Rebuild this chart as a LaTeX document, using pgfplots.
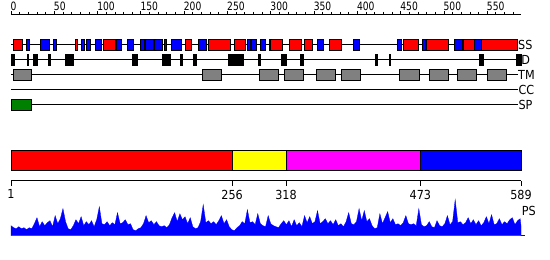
\documentclass[border=0pt]{standalone}
\usepackage{pgfplots}
\pgfplotsset{compat=1.18}
\usepackage{fontspec}
\setmainfont{DejaVu Sans}[FakeStretch=0.9]
\newfontfamily\rulerfont{DejaVu Sans}[FakeStretch=0.8]
\definecolor{spgreen}{RGB}{0,128,0}
\definecolor{pmag}{RGB}{255,0,255}
\definecolor{pred}{RGB}{255,0,0}
\definecolor{pblue}{RGB}{0,0,255}
\definecolor{pyellow}{RGB}{255,255,0}
\definecolor{pgray}{RGB}{128,128,128}
\newcommand\trackboxes[4]{%
  \foreach \a/\b in {#4}{%
    \edef\tmp{\noexpand\addplot[fill=#1, draw=black, line width=0.8bp] coordinates {(\a,#2) (\b,#2) (\b,#3) (\a,#3)} -- cycle;}%
    \tmp
  }%
}
\pgfplotstableread{
x y
0 10
3 8
6 7
9 9
12 7
15 8
18 6
21 8
24 7
27 12
30 18
33 9
36 14
39 10
42 13
45 15
48 9
51 20
54 12
57 17
60 27
63 14
66 7
69 6
72 10
75 16
78 12
81 19
84 10
87 14
90 11
93 15
96 9
99 16
102 29
105 12
108 11
111 14
114 10
117 13
120 11
123 23
126 12
129 13
132 16
135 11
138 12
141 6
144 5
147 7
150 8
153 12
156 20
159 13
162 15
165 11
168 14
171 10
174 9
177 10
180 8
183 11
186 18
189 23
192 14
195 22
198 16
201 19
204 12
207 18
210 9
213 7
216 8
219 14
222 31
225 13
228 15
231 12
234 14
237 11
240 15
243 20
246 12
249 16
252 9
255 6
258 5
261 8
264 10
267 14
270 12
273 26
276 13
279 14
282 11
285 22
288 12
291 10
294 9
297 20
300 12
303 10
306 9
309 8
312 12
315 15
318 11
321 15
324 9
327 16
330 10
333 13
336 9
339 20
342 13
345 19
348 12
351 14
354 25
357 12
360 14
363 17
366 12
369 15
372 11
375 16
378 10
381 12
384 9
387 14
390 23
393 12
396 11
399 14
402 27
405 15
408 25
411 14
414 17
417 10
420 7
423 8
426 22
429 12
432 18
435 24
438 13
441 17
444 11
447 12
450 10
453 13
456 20
459 12
462 11
465 12
468 10
471 27
474 11
477 9
480 10
483 14
486 9
489 8
492 15
495 10
498 9
501 12
504 20
507 11
510 14
513 36
516 13
519 14
522 11
525 13
528 18
531 12
534 16
537 11
540 15
543 10
546 13
549 19
552 12
555 21
558 11
561 12
564 17
567 11
570 14
573 12
576 16
579 18
582 11
585 15
588 17
589 10
}\psdata
\begin{document}
\begin{tikzpicture}
\useasboundingbox (0,0) rectangle (550bp,260bp);
% ruler
\begin{axis}[at={(11bp,245bp)}, anchor=north west, scale only axis,
  width=510bp, height=10bp, xmin=0, xmax=589, ymin=0, ymax=1,
  axis x line=top, axis y line=none, axis line style={-, line width=1bp},
  xtick={0,50,...,550},
  xticklabels={0,50,100,150,200,250,300,350,400,450,500,550},
  minor xtick={10,20,...,580},
  tick align=outside, major tick length=3.5bp, minor tick length=3bp,
  tick style={black, line width=0.8bp},
  xticklabel style={anchor=south west, inner sep=0pt,
    font=\rulerfont\fontsize{11.5}{11.5}\selectfont, xshift=-0.5bp, yshift=1bp}]
\addplot[draw=none] coordinates {(0,0)};
\end{axis}
% tracks
\begin{axis}[at={(11bp,0bp)}, anchor=south west, scale only axis,
  width=510bp, height=260bp, xmin=0, xmax=589, ymin=0, ymax=260,
  hide axis, clip=false]
\addplot[black, line width=1bp] coordinates {(0,215) (585,215)};
\addplot[black, line width=1bp] coordinates {(0,200) (585,200)};
\addplot[black, line width=1bp] coordinates {(0,185) (585,185)};
\addplot[black, line width=1bp] coordinates {(0,170) (585,170)};
\addplot[black, line width=1bp] coordinates {(0,155) (585,155)};
\trackboxes{pred}{209.7}{220.3}{3/13,74/77,107/120,201/208,228/253,258/271,300/314,321/335,339/348,368/381,453/471,480/505,522/535,543/585}
\trackboxes{pblue}{209.7}{220.3}{18/21,34/44,49/53,81/85,87/92,97/104,122/128,134/141,149/154,155/164,166/175,177/180,185/197,216/226,273/277,278/283,288/294,298/300,354/361,395/402,446/451,475/479,512/521,535/543}
\trackboxes{black}{194.7}{205.3}{0/4,19/20,26/30,43/45,63/72,140/146,175/184,196/198,211/214,251/268,286/288,312/318,334/338,421/423,437/438,541/546,584/589}
\trackboxes{pgray}{179.7}{190.3}{3/23,221/243,287/309,316/338,353/375,381/404,449/472,483/505,515/538,550/572}
\trackboxes{spgreen}{149.7}{160.3}{0/24}
\node[anchor=west, inner sep=0pt, font=\fontsize{12.5}{12.5}\selectfont] at (axis cs:585.5,215) {SS};
\node[anchor=west, inner sep=0pt, font=\fontsize{12.5}{12.5}\selectfont] at (axis cs:589.2,200) {D};
\node[anchor=west, inner sep=0pt, font=\fontsize{12.5}{12.5}\selectfont] at (axis cs:585.5,185) {TM};
\node[anchor=west, inner sep=0pt, font=\fontsize{12.5}{12.5}\selectfont] at (axis cs:586,170) {CC};
\node[anchor=west, inner sep=0pt, font=\fontsize{12.5}{12.5}\selectfont] at (axis cs:586,155) {SP};
\end{axis}
% domain bar with axis
\begin{axis}[at={(11bp,79.3bp)}, anchor=south west, scale only axis,
  width=510bp, height=30.7bp, xmin=1, xmax=589, ymin=0, ymax=30.7,
  axis x line=bottom, axis y line=none, axis line style={-, line width=1bp},
  xtick={1,256,318,473,589}, xticklabels={1,256,318,473,589},
  tick align=outside, major tick length=5bp,
  tick style={black, line width=0.8bp},
  xticklabel style={font=\fontsize{12.5}{12.5}\selectfont, inner sep=0pt, yshift=-4bp},
  clip=false]
\addplot[fill=pred, draw=black, line width=0.9bp] coordinates {(1,10.7) (256,10.7) (256,30.7) (1,30.7)} -- cycle;
\addplot[fill=pyellow, draw=black, line width=0.9bp] coordinates {(256,10.7) (318,10.7) (318,30.7) (256,30.7)} -- cycle;
\addplot[fill=pmag, draw=black, line width=0.9bp] coordinates {(318,10.7) (473,10.7) (473,30.7) (318,30.7)} -- cycle;
\addplot[fill=pblue, draw=black, line width=0.9bp] coordinates {(473,10.7) (589,10.7) (589,30.7) (473,30.7)} -- cycle;
\end{axis}
% PS profile
\begin{axis}[at={(11bp,24.3bp)}, anchor=south west, scale only axis,
  width=510bp, height=40bp, xmin=0, xmax=589, ymin=0, ymax=40,
  hide axis, clip=false]
\addplot[fill=pblue, draw=pblue, line width=0.3bp] table[x=x, y=y] {\psdata} \closedcycle;
\addplot[pblue, line width=1bp] coordinates {(589,0) (594,0)};
\node[anchor=west, inner sep=0pt, font=\fontsize{12.5}{12.5}\selectfont] at (axis cs:589.8,25.2) {PS};
\end{axis}
\end{tikzpicture}
\end{document}
